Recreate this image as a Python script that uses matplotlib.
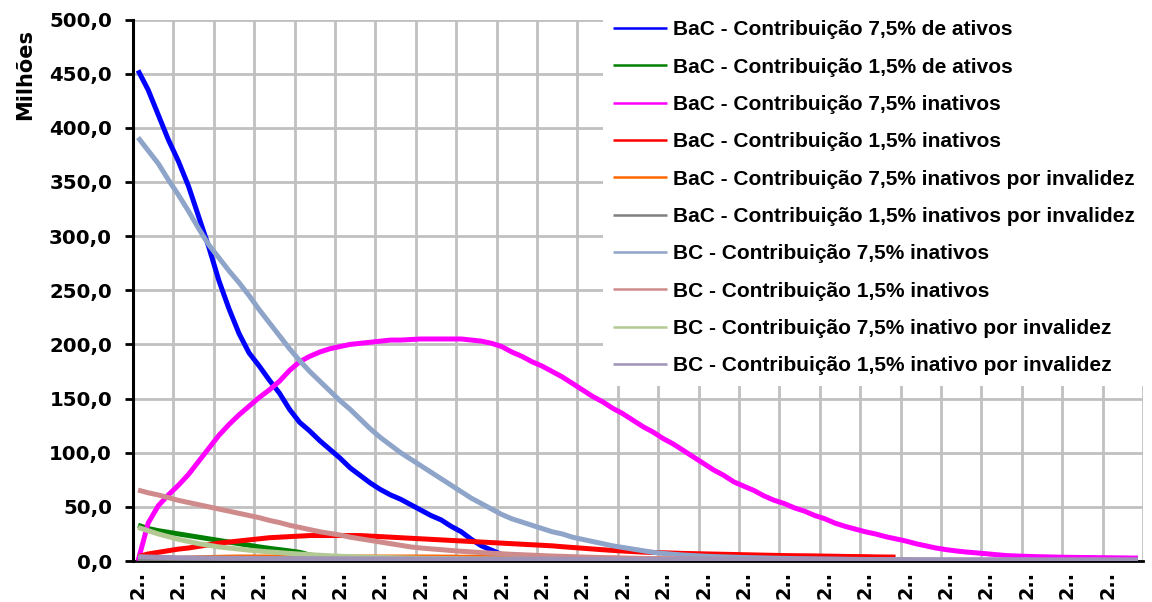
import matplotlib
matplotlib.use("Agg")
import matplotlib.pyplot as plt
import numpy as np

# categories: one point per year, 100 years, labels shown every 4th year (truncated "2..")
years = list(range(2010, 2110))
tick_every = 4
x_tick_labels = ["2.."] * 25
y_ticks = [0, 50, 100, 150, 200, 250, 300, 350, 400, 450, 500]
y_tick_labels = ["0,0", "50,0", "100,0", "150,0", "200,0", "250,0",
                 "300,0", "350,0", "400,0", "450,0", "500,0"]

bac_75_ativos = [453, 435, 412, 389, 369, 346, 318, 290, 259, 233,
                 210, 192, 180, 167, 155, 140, 128, 120, 111, 103,
                 95, 86, 79, 72, 66, 61, 57, 52, 47, 42,
                 38, 32, 27, 20, 14, 10, 6, 3.5, 2, 1.2,
                 0.8, 0.5, 0.3, 0.2, 0.1]
bac_15_ativos = [33, 30, 28, 26.5, 25, 23.5, 22, 20.5, 19, 17.5,
                 16, 14.5, 13, 11.7, 10.5, 9.3, 8.0, 5.5, 4.5, 4.0,
                 3.6, 3.2, 2.9, 2.6, 2.3, 2.0, 1.7, 1.5, 1.3, 1.1]
bac_75_inativos = [0, 35, 51, 61, 70, 80, 92, 104, 116, 126,
                   135, 143, 151, 158, 166, 176, 184, 189, 193, 196,
                   198, 200, 201, 202, 203, 204, 204, 204.5, 205, 205,
                   205, 205, 205, 204, 203, 201, 198, 193, 189, 184,
                   180, 175, 170, 164, 158, 152, 147, 141, 136, 130,
                   124, 119, 113, 108, 102, 96, 90, 84, 79, 73,
                   69, 65, 60, 56, 53, 49, 46, 42, 39, 35,
                   32, 29.5, 27, 25, 22.5, 20.5, 18.5, 16, 14, 12,
                   10.5, 9.3, 8.3, 7.5, 6.7, 5.8, 5, 4.6, 4.3, 4,
                   3.8, 3.6, 3.4, 3.3, 3.2, 3.1, 3.0, 2.9, 2.8, 2.7]
bac_15_inativos = [4, 6.5, 8, 9.5, 11, 12, 13.5, 15, 16.5, 17.5,
                   18.5, 19.5, 20.5, 21.5, 22, 22.5, 23, 23.5, 23.5, 23.5,
                   23.5, 23.5, 23.5, 23, 22.5, 22, 21.5, 21, 20.5, 20,
                   19.5, 19, 18.5, 18, 17.5, 17, 16.5, 16, 15.5, 15,
                   14.5, 14, 13.2, 12.5, 11.8, 11.1, 10.4, 9.8, 9.2, 8.7,
                   8.2, 7.9, 7.6, 7.3, 7.0, 6.8, 6.6, 6.4, 6.2, 6.0,
                   5.8, 5.6, 5.4, 5.2, 5.0, 4.9, 4.8, 4.7, 4.5, 4.4,
                   4.2, 4.1, 4.0, 3.8, 3.7, 3.6]
bac_75_invalidez = [0.5, 1, 1.5, 2, 2.4, 2.7, 3, 3.2, 3.4, 3.6,
                    3.7, 3.7, 3.7, 3.7, 3.7, 3.7, 3.7, 3.7, 3.7, 3.7,
                    3.7, 3.7, 3.7, 3.7, 3.7, 3.7, 3.7, 3.7, 3.7, 3.7,
                    3.6, 3.6, 3.5, 3.5, 3.4, 3.4, 3.3, 3.3, 3.2, 3.2,
                    3.1, 3.0, 2.9, 2.8, 2.7, 2.6, 2.5, 2.4, 2.3, 2.2,
                    2.1, 2.0, 1.9, 1.8, 1.7, 1.6, 1.5, 1.4, 1.3, 1.2]
bac_15_invalidez = [1.0, 1.0, 0.9, 0.9, 0.9, 0.8, 0.8, 0.8, 0.7, 0.7,
                    0.7, 0.6, 0.6, 0.6, 0.5, 0.5, 0.5, 0.5, 0.4, 0.4,
                    0.4, 0.4, 0.3, 0.3, 0.3, 0.3, 0.3, 0.2, 0.2, 0.2]
bc_75_inativos = [391, 379, 367, 352, 338, 323, 307, 292, 280, 268,
                  257, 245, 232, 220, 208, 196, 185, 175, 166, 157,
                  148, 140, 131, 122, 114, 107, 100, 94, 88, 82,
                  76, 70, 64, 58, 53, 48, 43, 39, 36, 33,
                  30, 27, 25, 22, 20, 18, 16, 14, 12.5, 11,
                  9.5, 8, 7, 6.2, 5.5, 5, 4.5, 4.1, 3.8, 3.5,
                  3.2, 3, 2.8, 2.6, 2.4, 2.2, 2.1, 2, 1.9, 1.8,
                  1.6, 1.5, 1.4, 1.3, 1.2, 1.1, 1.0, 0.9, 0.8, 0.7,
                  0.6, 0.5, 0.4, 0.3, 0.2]
bc_15_inativos = [65.5, 63, 61, 58.5, 56, 54, 52, 50, 48, 46,
                  44, 42, 40, 37.5, 35.5, 33, 31, 29, 27, 25.5,
                  24, 22, 20.5, 19, 17.5, 16, 14.5, 13, 12, 11.2,
                  10.5, 9.7, 9, 8.4, 7.8, 7.2, 6.7, 6.2, 5.8, 5.4,
                  5, 4.6, 4.3, 4, 3.7, 3.4, 3.2, 3, 2.8, 2.6,
                  2.4, 2.2, 2.1, 2.0, 1.9, 1.8, 1.7, 1.6, 1.5, 1.4,
                  1.3, 1.2, 1.1, 1.0, 0.9]
bc_75_invalidez = [31, 28, 25, 22.5, 20, 18, 16, 14.5, 13, 12,
                   11, 10, 9.2, 8.4, 7.7, 7, 6.4, 5.8, 5.3, 4.8,
                   4.4, 4, 3.7, 3.5, 3.3, 3.1, 2.9, 2.7, 2.5, 2.4,
                   2.3, 2.2, 2.1, 2.0, 1.9, 1.8, 1.7, 1.6, 1.5, 1.4,
                   1.3, 1.2, 1.1, 1.0, 0.9, 0.8]
bc_15_invalidez = [4.0, 3.7, 3.4, 3.2, 3.0, 2.9, 2.8, 2.7, 2.6, 2.5,
                   2.5, 2.4, 2.4, 2.3, 2.3, 2.2, 2.2, 2.2, 2.1, 2.1,
                   2.1, 2.0, 2.0, 2.0, 2.0, 1.9, 1.9, 1.9, 1.9, 1.9,
                   1.8, 1.8, 1.8, 1.8, 1.8, 1.8, 1.7, 1.7, 1.7, 1.7,
                   1.7, 1.7, 1.6, 1.6, 1.6, 1.6, 1.6, 1.6, 1.6, 1.5,
                   1.5, 1.5, 1.5, 1.5, 1.5, 1.5, 1.5, 1.4, 1.4, 1.4,
                   1.4, 1.4, 1.4, 1.4, 1.4, 1.4, 1.3, 1.3, 1.3, 1.3,
                   1.3, 1.3, 1.3, 1.3, 1.3, 1.3, 1.3, 1.2, 1.2, 1.2,
                   1.2, 1.2, 1.2, 1.2, 1.2, 1.2, 1.2, 1.2, 1.2, 1.1,
                   1.1, 1.1, 1.1, 1.1, 1.1, 1.1, 1.1, 1.1, 1.1, 1.1]

series = [
    ("BaC - Contribuição 7,5% de ativos", bac_75_ativos, "#0000ff"),
    ("BaC - Contribuição 1,5% de ativos", bac_15_ativos, "#008000"),
    ("BaC - Contribuição 7,5% inativos", bac_75_inativos, "#ff00ff"),
    ("BaC - Contribuição 1,5% inativos", bac_15_inativos, "#ff0000"),
    ("BaC - Contribuição 7,5% inativos por invalidez", bac_75_invalidez, "#ff6600"),
    ("BaC - Contribuição 1,5% inativos por invalidez", bac_15_invalidez, "#808080"),
    ("BC - Contribuição 7,5% inativos", bc_75_inativos, "#8ea4c8"),
    ("BC - Contribuição 1,5% inativos", bc_15_inativos, "#cf8b8b"),
    ("BC - Contribuição 7,5% inativo por invalidez", bc_75_invalidez, "#b3c993"),
    ("BC - Contribuição 1,5% inativo por invalidez", bc_15_invalidez, "#a093b8"),
]

fig = plt.figure(figsize=(11.52, 6.02), dpi=100)
ax = fig.add_axes([133 / 1152, 1 - 561 / 602, (1143 - 133) / 1152, (561 - 19.5) / 602])

x = np.arange(len(years))
for label, values, color in series:
    ax.plot(x[:len(values)], values, color=color, lw=3.6, label=label,
            solid_capstyle="butt", solid_joinstyle="round", zorder=2)

ax.set_xlim(-0.5, len(years) - 0.5)
ax.set_ylim(0, 500)

ax.set_xticks(x[::tick_every])
ax.set_xticklabels(x_tick_labels, rotation=90, fontsize=13.9, fontweight="bold",
                   family="DejaVu Sans", va="top", ha="center")
ax.set_xticks(np.arange(tick_every - 0.5, len(years), tick_every), minor=True)
ax.tick_params(axis="x", which="both", length=0, pad=7)

ax.set_yticks(y_ticks)
ax.set_yticklabels(y_tick_labels, fontsize=14.2, fontweight="bold", family="DejaVu Sans")
ax.tick_params(axis="y", length=6, width=2, pad=9, color="black")

ax.set_axisbelow(True)
ax.grid(True, axis="y", which="major", color="#c0c0c0", lw=2)
ax.grid(True, axis="x", which="minor", color="#c0c0c0", lw=2)
ax.grid(False, axis="x", which="major")

for side in ["top", "right"]:
    ax.spines[side].set_visible(False)
ax.spines["left"].set_linewidth(2.2)
ax.spines["left"].set_zorder(3)
ax.spines["bottom"].set_linewidth(2)
ax.spines["bottom"].set_zorder(1)

fig.text(25 / 1152, 1 - 74 / 602, "Milhões", rotation=90, ha="center", va="center",
         fontsize=15, fontweight="bold", family="DejaVu Sans")

leg = ax.legend(loc="upper left", bbox_to_anchor=(603 / 1152, 1 - 10 / 602),
                bbox_transform=fig.transFigure, frameon=True, fancybox=False,
                edgecolor="none", facecolor="white", framealpha=1,
                prop={"family": "Liberation Sans", "weight": "bold", "size": 15},
                handlelength=2.55, handletextpad=0.3, borderpad=0.5,
                labelspacing=0.88, borderaxespad=0)
for line in leg.get_lines():
    line.set_linewidth(1.8)
leg.set_zorder(5)

fig.savefig("out.png", dpi=100)
